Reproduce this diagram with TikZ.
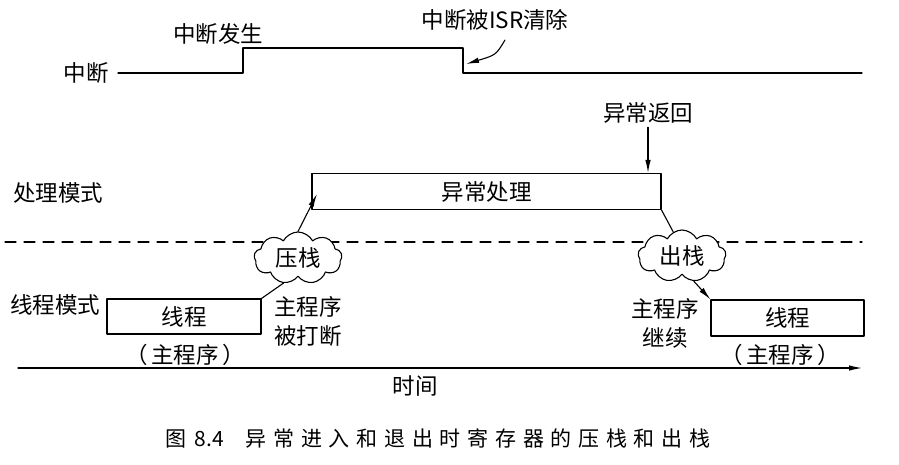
\documentclass[tikz,border=0pt]{standalone}
\usepackage{fontspec}
\setmainfont{Noto Sans CJK SC}
\usetikzlibrary{arrows.meta,shapes.symbols,positioning}

\begin{document}
\begin{tikzpicture}[x=1pt,y=-1pt,line cap=round,line join=round,>={Latex[length=13pt,width=5.5pt]},
  font=\fontsize{22.5}{29}\selectfont, line width=1.1pt,
  box/.style={draw,minimum height=36pt,inner sep=0pt},
  puff/.style={cloud,draw,cloud puffs=9,cloud puff arc=125,aspect=1.7,minimum width=88pt,minimum height=52pt,inner sep=0pt,fill=white}]
\useasboundingbox (0,0) rectangle (899,464);
% interrupt signal
\node (irq) at (86,73) {中断};
\node (irqon) at (218,34) {中断发生};
\node (isr) at (495,20) {中断被ISR清除};
\draw (118,73) -- (243,73) -- (243,48) -- (463,48) -- (463,73) -- (862,73);
\coordinate (isrtail) at (505,40);
\coordinate (isrtip) at (466,64);
\draw[->] (isrtail) .. controls (496,55) .. (isrtip);
% modes
\node (hmode) at (58,193) {处理模式};
\node (tmode) at (55,305) {线程模式};
\draw[dash pattern=on 11pt off 8pt] (5,242) -- (862,242);
\node[box,minimum width=349pt] (exc) at (486.5,191.5) {异常处理};
\node (ret) at (648,113) {异常返回};
\draw[->] (ret) -- (ret |- exc.north);
\node[box,minimum width=154pt,minimum height=35pt] (lthr) at (184,316.5) {线程};
\node (lmain) at (185,355) {（\,主程序\,）};
\node[box,minimum width=153pt] (rthr) at (787.5,318) {线程};
\node (rmain) at (780,355) {（\,主程序\,）};
\node[puff] (push) at (298,258) {压栈};
\node[puff] (pop) at (682,256) {出栈};
\coordinate (pushtip) at (317,194);
\draw[->] (push.north) -- (pushtip);
\draw (lthr.north east) -- (push.-120);
\draw (exc.south east) -- (pop.110);
\draw[->] (pop.-65) -- (rthr.north west);
\node[align=center] (stop) at (308,321) {主程序\\被打断};
\node[align=center] (cont) at (665,323) {主程序\\继续};
% time axis
\draw[->] (18,368) -- (862,368);
\node (time) at (415,386) {时间};
\node (cap) at (438,438) {\fontsize{21}{24}\selectfont 图\hspace{8pt}8.4\hspace{22pt}{\addfontfeature{LetterSpace=32}异常进入和退出时寄存器的压栈和出栈}};
\end{tikzpicture}
\end{document}
